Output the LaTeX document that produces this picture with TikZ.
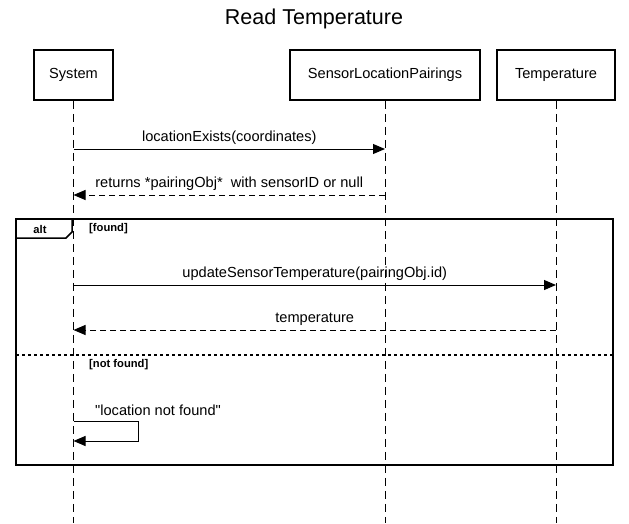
\documentclass[tikz,border=0pt]{standalone}
\usepackage{fontspec}
\setmainfont{Liberation Sans}
\usetikzlibrary{arrows.meta}
\begin{document}
\begin{tikzpicture}[x=1pt,y=-1pt,
  actor/.style={draw,line width=1.5pt,minimum width=#1,minimum height=50pt,inner sep=0pt,font=\fontsize{14.6}{16}\selectfont},
  life/.style={dash pattern=on 8pt off 5pt,line width=1pt},
  msg/.style={line width=1pt,-{Triangle[length=12pt,width=10pt]}},
  ret/.style={msg,dash pattern=on 6pt off 4pt},
  lbl/.style={font=\fontsize{14.6}{16}\selectfont,inner sep=0pt},
  guard/.style={font=\bfseries\fontsize{11.2}{13}\selectfont,inner sep=0pt,anchor=west}]
\useasboundingbox (0,0) rectangle (629,523);
\node[font=\fontsize{21.5}{24}\selectfont] (title) at (314,19) {Read Temperature};
\node[actor=79pt] (sys) at (73.5,75) {System};
\node[actor=190pt] (slp) at (385,75) {SensorLocationPairings};
\node[actor=118pt] (tmp) at (556,75) {Temperature};
\coordinate (sysE) at (73.5,523);
\coordinate (slpE) at (385,523);
\coordinate (tmpE) at (556,523);
\draw[life] (sys.south) -- (sysE);
\draw[life] (slp.south) -- (slpE);
\draw[life] (tmp.south) -- (tmpE);
% messages
\coordinate (m1a) at (73.5,149); \coordinate (m1b) at (385,149);
\draw[msg] (m1a) -- node[lbl,above=3.5pt] (l1) {locationExists(coordinates)} (m1b);
\coordinate (m2a) at (385,195); \coordinate (m2b) at (73.5,195);
\draw[ret] (m2a) -- node[lbl,above=3.5pt] (l2) {returns *pairingObj*\ \ with sensorID or null} (m2b);
% alt frame
\draw[line width=1.8pt] (16,219) rectangle (613,465);
\draw[line width=1.5pt] (16,238) -- (66,238) -- (72,232) -- (72,219);
\node[font=\bfseries\fontsize{11.2}{13}\selectfont] (alt) at (40,229) {alt};
\node[guard] (g1) at (89,228.5) {[found]};
\coordinate (m3a) at (73.5,285); \coordinate (m3b) at (556,285);
\draw[msg] (m3a) -- node[lbl,above=3.5pt] (l3) {updateSensorTemperature(pairingObj.id)} (m3b);
\coordinate (m4a) at (556,330); \coordinate (m4b) at (73.5,330);
\draw[ret] (m4a) -- node[lbl,above=3.5pt] (l4) {temperature} (m4b);
\coordinate (sepa) at (16,355); \coordinate (sepb) at (613,355);
\draw[line width=1.8pt,dash pattern=on 3pt off 3pt] (sepa) -- (sepb);
\node[guard] (g2) at (89,364.5) {[not found]};
% self message
\coordinate (s1) at (73.5,421); \coordinate (s2) at (138,421);
\coordinate (s3) at (138,441); \coordinate (s4) at (73.5,441);
\draw[msg] (s1) -- (s2) -- (s3) -- (s4);
\node[lbl,anchor=west] (l5) at (95,410) {\textquotedbl location not found\textquotedbl};
\end{tikzpicture}
\end{document}
